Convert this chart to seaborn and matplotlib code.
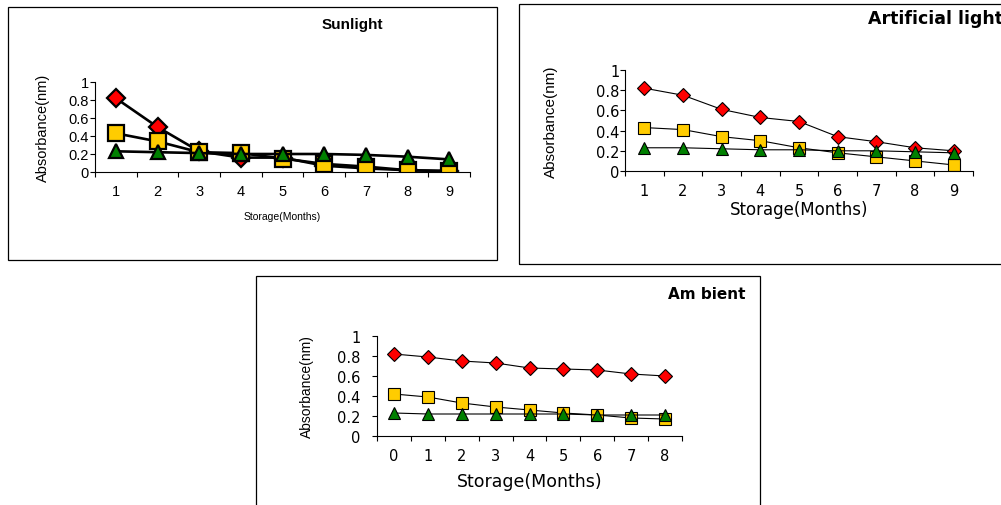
import matplotlib
matplotlib.use("Agg")
import matplotlib.pyplot as plt
import seaborn as sns
from matplotlib.patches import Rectangle

# ---------------- data ----------------
months_a = ["1", "2", "3", "4", "5", "6", "7", "8", "9"]
months_b = ["0", "1", "2", "3", "4", "5", "6", "7", "8"]
ytick_values = [0, 0.2, 0.4, 0.6, 0.8, 1.0]
ytick_labels = ["0", "0.2", "0.4", "0.6", "0.8", "1"]

sun_red = [0.82, 0.50, 0.23, 0.16, 0.16, 0.07, 0.04, 0.02, 0.01]
sun_yellow = [0.43, 0.34, 0.22, 0.21, 0.15, 0.09, 0.06, 0.02, 0.01]
sun_green = [0.23, 0.22, 0.21, 0.20, 0.20, 0.20, 0.19, 0.17, 0.14]

art_red = [0.82, 0.75, 0.61, 0.53, 0.49, 0.34, 0.29, 0.23, 0.20]
art_yellow = [0.43, 0.41, 0.34, 0.30, 0.23, 0.18, 0.14, 0.10, 0.06]
art_green = [0.23, 0.23, 0.22, 0.21, 0.21, 0.20, 0.20, 0.19, 0.18]

amb_red = [0.82, 0.79, 0.75, 0.73, 0.68, 0.67, 0.66, 0.62, 0.60]
amb_yellow = [0.42, 0.39, 0.33, 0.29, 0.26, 0.23, 0.21, 0.18, 0.17]
amb_green = [0.23, 0.22, 0.22, 0.22, 0.22, 0.22, 0.21, 0.21, 0.21]

titles = ["Sunlight", "Artificial light", "Am bient"]
xlabel_text = "Storage(Months)"
ylabel_text = "Absorbance(nm)"

RED, YELLOW, GREEN = "#FF0000", "#FFCC00", "#008000"

# ---------------- style ----------------
sns.set_theme(style="ticks")
plt.rcParams['font.family'] = ['Liberation Sans', 'DejaVu Sans']

W, H = 1001, 506
fig = plt.figure(figsize=(W / 100, H / 100), dpi=100)
fig.patch.set_facecolor("white")


def px_axes(x0, y0, x1, y1):
    return fig.add_axes([x0 / W, 1 - y1 / H, (x1 - x0) / W, (y1 - y0) / H])


def frame(x0, y0, x1, y1):
    fig.add_artist(Rectangle((x0 / W, 1 - y1 / H), (x1 - x0) / W, (y1 - y0) / H,
                             transform=fig.transFigure, fill=False,
                             edgecolor="black", linewidth=0.9, clip_on=False))


def panel(rect, cats, red, yellow, green, ms, lw, mew,
          tick_font, tick_size, xpad, ypad,
          xl_font, xl_size, xl_y, yl_font, yl_size, yl_x):
    ax = px_axes(*rect)
    ax.set_facecolor("white")
    for vals, mk, fc, size in [(red, "D", RED, ms[0]), (yellow, "s", YELLOW, ms[1]),
                               (green, "^", GREEN, ms[2])]:
        sns.pointplot(x=cats, y=vals, order=cats, color="black", markers=mk,
                      linestyles="-", errorbar=None, ax=ax,
                      markerfacecolor=fc, markeredgecolor="black",
                      markersize=size, linewidth=lw, markeredgewidth=mew)
    ax.set_xlim(-0.5, len(cats) - 0.5)
    ax.set_ylim(0, 1)
    ax.set_yticks(ytick_values)
    ax.set_yticklabels(ytick_labels, fontfamily=tick_font, fontsize=tick_size)
    ax.set_xticks(range(len(cats)))
    ax.set_xticklabels(cats, fontfamily=tick_font, fontsize=tick_size)
    ax.set_xticks([i - 0.5 for i in range(len(cats) + 1)], minor=True)
    ax.tick_params(axis="x", which="major", length=0, pad=xpad, colors="black")
    ax.tick_params(axis="x", which="minor", length=3.5, width=0.8, direction="out", color="black")
    ax.tick_params(axis="y", which="major", length=3.5, width=0.8, direction="out",
                   pad=ypad, colors="black")
    for s in ["top", "right"]:
        ax.spines[s].set_visible(False)
    for s in ["left", "bottom"]:
        ax.spines[s].set_color("black")
        ax.spines[s].set_linewidth(0.8)
    ax.grid(False)
    ax.set_xlabel(xlabel_text, fontfamily=xl_font, fontsize=xl_size, va="center", color="black")
    ax.xaxis.set_label_coords(0.5, xl_y)
    ax.set_ylabel(ylabel_text, fontfamily=yl_font, fontsize=yl_size, va="center", color="black")
    ax.yaxis.set_label_coords(yl_x, 0.5)
    return ax


# frames
frame(8, 8, 497, 261)
frame(519, 5, 1010, 265)
frame(256, 277, 760, 515)

# Panel 1: Sunlight
panel((95, 83, 470, 173), months_a, sun_red, sun_yellow, sun_green,
      ms=(9, 12, 10), lw=1.9, mew=1.6,
      tick_font=['Liberation Sans', 'DejaVu Sans'], tick_size=10.5, xpad=8.5, ypad=1,
      xl_font=['Liberation Sans'], xl_size=7.5, xl_y=-0.49,
      yl_font=['Liberation Sans'], yl_size=10.5, yl_x=-0.14)
fig.text(352 / W, 1 - 25 / H, titles[0], ha="center", va="center",
         fontsize=11, fontweight="bold", family=['Liberation Sans'], color="black")

# Panel 2: Artificial light
panel((625, 71, 973, 172), months_a, art_red, art_yellow, art_green,
      ms=(7, 8.5, 8), lw=0.8, mew=0.8,
      tick_font=['DejaVu Sans'], tick_size=10.5, xpad=9, ypad=0.5,
      xl_font=['DejaVu Sans'], xl_size=12, xl_y=-0.38,
      yl_font=['Liberation Sans'], yl_size=11, yl_x=-0.213)
fig.text(868 / W, 1 - 19 / H, titles[1], ha="left", va="center",
         fontsize=12.5, fontweight="bold", family=['DejaVu Sans'], color="black")

# Panel 3: Ambient
panel((377, 337, 682, 437), months_b, amb_red, amb_yellow, amb_green,
      ms=(7, 8.5, 9), lw=0.8, mew=0.8,
      tick_font=['DejaVu Sans'], tick_size=10.5, xpad=8.5, ypad=8.5,
      xl_font=['DejaVu Sans'], xl_size=12.5, xl_y=-0.45,
      yl_font=['Liberation Sans'], yl_size=10, yl_x=-0.23)
fig.text(746 / W, 1 - 295 / H, titles[2], ha="right", va="center",
         fontsize=11, fontweight="bold", family=['DejaVu Sans'], color="black")

fig.savefig("out.png", dpi=100, facecolor="white")
